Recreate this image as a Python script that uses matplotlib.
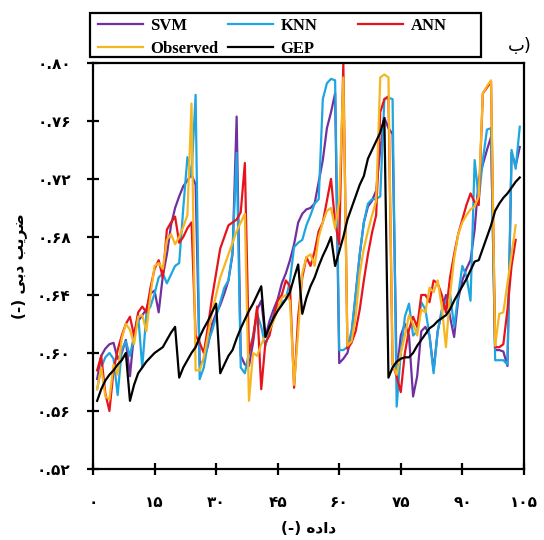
import numpy as np
import matplotlib.pyplot as plt
from matplotlib.patches import Rectangle

# data index
x = np.arange(1, 105)

observed = [0.575, 0.590, 0.570, 0.568, 0.592, 0.585, 0.610, 0.620, 0.616, 0.606,
            0.625, 0.626, 0.615, 0.640, 0.660, 0.662, 0.658, 0.678, 0.682, 0.675,
            0.680, 0.687, 0.695, 0.772, 0.588, 0.588, 0.597, 0.612, 0.628, 0.640,
            0.652, 0.660, 0.668, 0.676, 0.684, 0.690, 0.696, 0.567, 0.600, 0.598,
            0.606, 0.612, 0.616, 0.622, 0.630, 0.638, 0.640, 0.636, 0.578, 0.615,
            0.655, 0.666, 0.668, 0.660, 0.680, 0.690, 0.698, 0.700, 0.686, 0.705,
            0.790, 0.605, 0.608, 0.625, 0.655, 0.672, 0.684, 0.695, 0.705, 0.790,
            0.792, 0.790, 0.592, 0.585, 0.600, 0.612, 0.626, 0.620, 0.612, 0.630,
            0.628, 0.645, 0.642, 0.650, 0.632, 0.604, 0.640, 0.665, 0.682, 0.690,
            0.695, 0.699, 0.701, 0.708, 0.779, 0.784, 0.788, 0.605, 0.627, 0.628,
            0.648, 0.668, 0.688, np.nan]

ann = [0.588, 0.598, 0.572, 0.560, 0.588, 0.602, 0.612, 0.620, 0.625, 0.612,
       0.628, 0.632, 0.628, 0.645, 0.658, 0.664, 0.652, 0.685, 0.690, 0.694,
       0.676, 0.680, 0.686, 0.690, 0.612, 0.607, 0.600, 0.618, 0.638, 0.655,
       0.672, 0.680, 0.688, 0.690, 0.692, 0.697, 0.731, 0.600, 0.610, 0.632,
       0.575, 0.607, 0.612, 0.625, 0.636, 0.640, 0.650, 0.646, 0.576, 0.625,
       0.652, 0.666, 0.660, 0.670, 0.684, 0.690, 0.705, 0.720, 0.690, 0.675,
       0.800, 0.603, 0.607, 0.615, 0.630, 0.650, 0.668, 0.683, 0.695, 0.766,
       0.775, 0.777, 0.592, 0.584, 0.573, 0.600, 0.616, 0.625, 0.618, 0.640,
       0.640, 0.635, 0.650, 0.648, 0.640, 0.628, 0.652, 0.668, 0.682, 0.692,
       0.702, 0.710, 0.704, 0.702, 0.779, 0.783, 0.787, 0.604, 0.604, 0.606,
       0.630, 0.660, 0.678, np.nan]

knn = [0.575, 0.590, 0.597, 0.600, 0.596, 0.571, 0.602, 0.608, 0.598, 0.612,
       0.626, 0.590, 0.627, 0.632, 0.641, 0.652, 0.655, 0.648, 0.654, 0.660,
       0.662, 0.700, 0.735, 0.722, 0.778, 0.582, 0.590, 0.607, 0.615, 0.625,
       0.635, 0.645, 0.650, 0.670, 0.738, 0.590, 0.586, 0.600, 0.612, 0.627,
       0.618, 0.605, 0.615, 0.627, 0.632, 0.635, 0.637, 0.650, 0.673, 0.676,
       0.678, 0.688, 0.695, 0.703, 0.706, 0.775, 0.786, 0.789, 0.788, 0.602,
       0.602, 0.604, 0.615, 0.640, 0.668, 0.690, 0.703, 0.706, 0.706, 0.708,
       0.775, 0.776, 0.775, 0.563, 0.600, 0.625, 0.634, 0.612, 0.615, 0.635,
       0.630, 0.612, 0.586, 0.615, 0.630, 0.636, 0.641, 0.618, 0.640, 0.660,
       0.653, 0.636, 0.733, 0.706, 0.733, 0.754, 0.755, 0.595, 0.595, 0.595,
       0.592, 0.740, 0.727, 0.756]

svm = [0.582, 0.598, 0.603, 0.606, 0.607, 0.596, 0.600, 0.609, 0.584, 0.614,
       0.622, 0.626, 0.630, 0.641, 0.643, 0.628, 0.653, 0.668, 0.688, 0.700,
       0.708, 0.715, 0.719, 0.723, 0.716, 0.592, 0.595, 0.605, 0.620, 0.627,
       0.633, 0.641, 0.650, 0.668, 0.763, 0.598, 0.592, 0.591, 0.607, 0.630,
       0.636, 0.611, 0.622, 0.630, 0.637, 0.648, 0.655, 0.664, 0.675, 0.690,
       0.696, 0.699, 0.700, 0.703, 0.718, 0.733, 0.755, 0.766, 0.779, 0.593,
       0.596, 0.600, 0.612, 0.640, 0.668, 0.690, 0.701, 0.705, 0.712, 0.740,
       0.762, 0.755, 0.751, 0.585, 0.612, 0.620, 0.612, 0.570, 0.584, 0.615,
       0.618, 0.612, 0.588, 0.615, 0.628, 0.640, 0.625, 0.611, 0.637, 0.650,
       0.658, 0.664, 0.685, 0.720, 0.730, 0.740, 0.749, 0.602, 0.602, 0.601,
       0.591, 0.738, 0.729, 0.742]

gep = [0.567, 0.575, 0.581, 0.585, 0.588, 0.592, 0.595, 0.600, 0.567, 0.578,
       0.586, 0.590, 0.594, 0.597, 0.600, 0.602, 0.604, 0.609, 0.614, 0.618,
       0.583, 0.590, 0.595, 0.600, 0.604, 0.611, 0.617, 0.622, 0.628, 0.634,
       0.586, 0.592, 0.598, 0.602, 0.610, 0.617, 0.623, 0.629, 0.634, 0.640,
       0.646, 0.611, 0.618, 0.624, 0.629, 0.633, 0.637, 0.642, 0.652, 0.661,
       0.627, 0.638, 0.646, 0.652, 0.660, 0.667, 0.673, 0.680, 0.660, 0.670,
       0.680, 0.692, 0.700, 0.708, 0.716, 0.722, 0.734, 0.740, 0.746, 0.752,
       0.762, 0.583, 0.590, 0.594, 0.596, 0.597, 0.597, 0.600, 0.605, 0.609,
       0.613, 0.617, 0.619, 0.622, 0.624, 0.626, 0.630, 0.636, 0.641, 0.646,
       0.651, 0.657, 0.663, 0.664, 0.672, 0.680, 0.688, 0.698, 0.703, 0.707,
       0.710, 0.714, 0.718, 0.721]

xticks = [0, 15, 30, 45, 60, 75, 90, 105]
yticks = [0.52, 0.56, 0.60, 0.64, 0.68, 0.72, 0.76, 0.80]

fa = str.maketrans('0123456789', '۰۱۲۳۴۵۶۷۸۹')

def to_fa(s):
    return s.translate(fa)

# presentation forms in visual order (matplotlib does no arabic shaping)
xlabel = '(-) \uFEE9\uFEA9\uFE8D\uFEA9'
ylabel = '(-) \uFBFD\uFE91\uFEA9 \uFE90\uFBFE\uFEAE\uFEBF'
panel = '\uFE8F)'

fig = plt.figure(figsize=(5.44, 5.40), dpi=100)
ax = fig.add_axes([0.171, 0.1315, 0.792, 0.752])

lw = 1.6
l1, = ax.plot(x, svm, color='#7030A0', lw=lw, label='SVM')
l2, = ax.plot(x, knn, color='#1FA5E0', lw=lw, label='KNN')
l3, = ax.plot(x, ann, color='#E8141B', lw=lw, label='ANN')
l4, = ax.plot(x, observed, color='#F7B520', lw=lw, label='Observed')
l5, = ax.plot(x, gep, color='black', lw=lw, label='GEP')

ax.set_xlim(0, 105)
ax.set_ylim(0.52, 0.80)
ax.set_xticks(xticks)
ax.set_xticklabels([to_fa(str(t)) for t in xticks])
ax.set_yticks(yticks)
ax.set_yticklabels([to_fa('%.2f' % t) for t in yticks])
for s in ax.spines.values():
    s.set_linewidth(1.6)
    s.set_color('black')
ax.tick_params(direction='inout', length=8, width=1.6, labelsize=11)
ax.tick_params(axis='x', pad=15)
ax.tick_params(axis='y', pad=12)
for lab in ax.get_xticklabels() + ax.get_yticklabels():
    lab.set_fontweight('bold')
    lab.set_family('DejaVu Sans')

ax.set_xlabel(xlabel, fontsize=11, fontweight='bold', labelpad=8)
ax.set_ylabel(ylabel, fontsize=11, fontweight='bold', labelpad=7)

# legend: framed box with three fixed-width columns
fig.add_artist(Rectangle((0.1654, 0.8944), 0.7188, 0.0815, transform=fig.transFigure,
                         facecolor='white', edgecolor='black', lw=1.6))
prop = {'family': 'Liberation Serif', 'weight': 'bold', 'size': 12}
cols = [([l1, l4], ['SVM', 'Observed'], 0.180),
        ([l2, l5], ['KNN', 'GEP'], 0.419),
        ([l3], ['ANN'], 0.658)]
for hs, labs, xpos in cols:
    lg = fig.legend(hs, labs, loc='upper left', bbox_to_anchor=(xpos, 0.967),
                    frameon=False, borderpad=0, borderaxespad=0, handlelength=2.7,
                    handletextpad=0.45, labelspacing=0.42, prop=prop)

fig.text(0.955, 0.915, panel, fontsize=13, ha='center', va='center')

fig.savefig('out.png', dpi=100)
